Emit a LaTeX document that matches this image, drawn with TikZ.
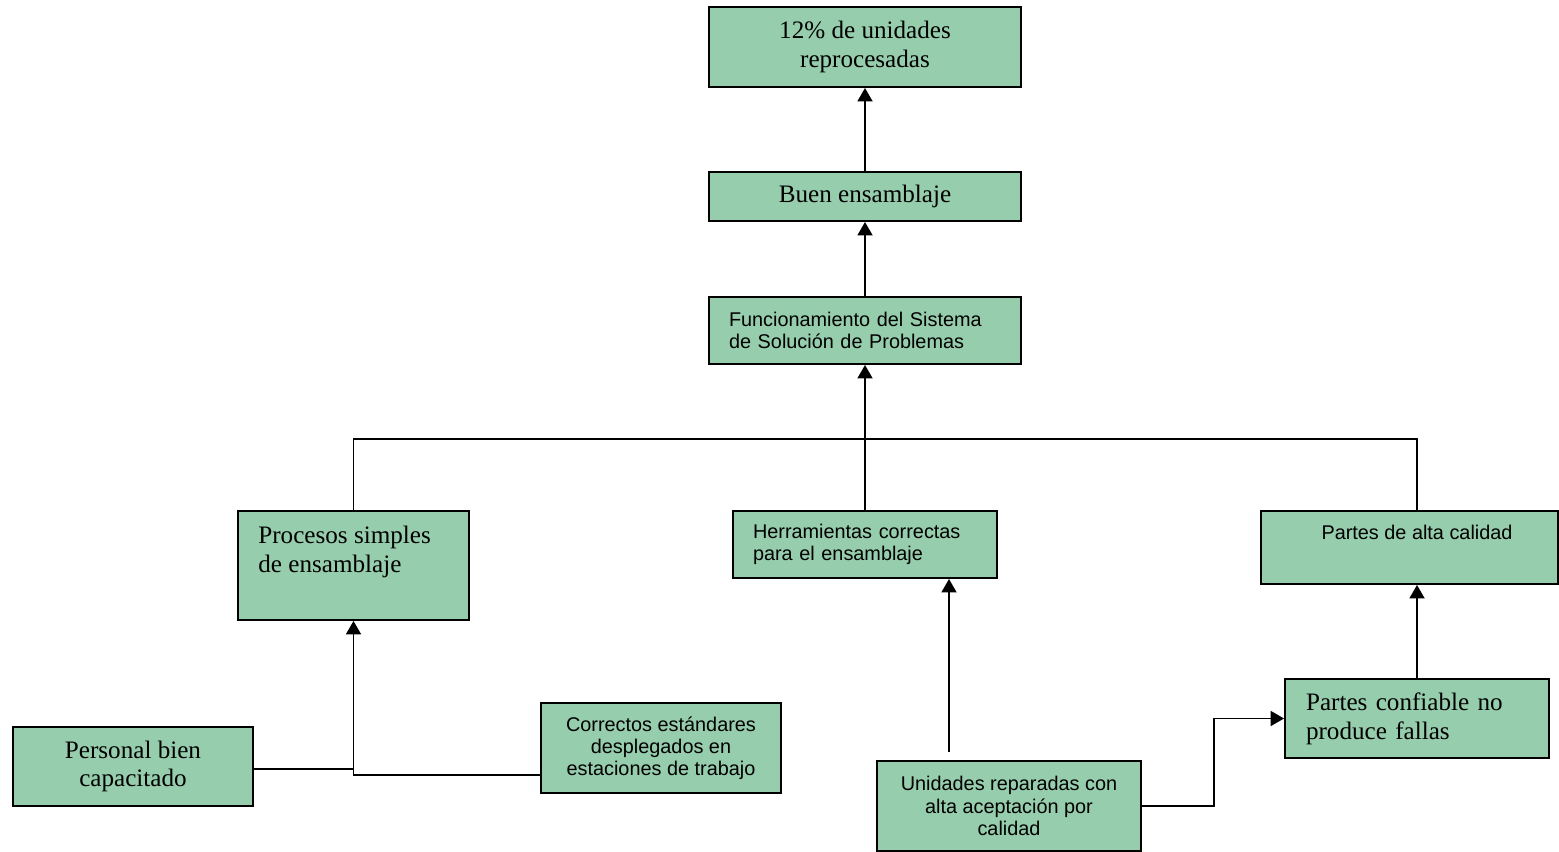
\documentclass[tikz,border=0pt]{standalone}
\usepackage{fontspec}
\setmainfont{Liberation Serif}
\setsansfont{Liberation Sans}
\usetikzlibrary{arrows.meta,calc}
\definecolor{verdecaja}{RGB}{150,205,172}

\begin{document}
\begin{tikzpicture}[x=0.02cm, y=-0.02cm,
  caja/.style={draw, line width=1.1pt, fill=verdecaja, inner sep=0pt},
  serifa/.style={font=\fontsize{14.3}{16.4}\selectfont},
  sanserif/.style={font=\sffamily\fontsize{11.3}{12.6}\selectfont},
  linea/.style={line width=1.1pt},
  flecha/.style={line width=1.1pt, -{Triangle[length=0.27cm, width=0.3cm]}}]
\useasboundingbox (0,0) rectangle (1559,852);

\node[caja, serifa, align=center, minimum width=6.24cm, minimum height=1.6cm] (reproc) at (865,47) {12\% de unidades\\reprocesadas};
\node[caja, serifa, minimum width=6.24cm, minimum height=0.98cm] (buen) at (865,196.5) {Buen ensamblaje};
\node[caja, sanserif, align=left, text width=5.44cm, inner xsep=0.4cm, minimum height=1.34cm] (func) at (865,330.5) {Funcionamiento del Sistema\\de Solución de Problemas};

\node[caja, minimum width=4.62cm, minimum height=2.18cm] (proc) at (353.5,565.5) {};
\node[serifa, align=left, anchor=north west, inner sep=0pt] (proc-txt) at ($(proc.north west)+(21,16)$) {Procesos simples\\de ensamblaje};
\node[caja, sanserif, align=left, text width=4.48cm, inner xsep=0.4cm, minimum height=1.34cm] (herr) at (865,544.5) {Herramientas correctas\\para el ensamblaje};
\node[caja, minimum width=5.94cm, minimum height=1.46cm] (partes) at (1409.5,547.5) {};
\node[sanserif, inner sep=0pt] (partes-txt) at (1417,532) {Partes de alta calidad};

\node[caja, serifa, align=center, minimum width=4.8cm, minimum height=1.58cm] (personal) at (133,766.5) {Personal bien\\capacitado};
\node[caja, sanserif, align=center, minimum width=4.8cm, minimum height=1.8cm] (correctos) at (661,748) {Correctos estándares\\desplegados en\\estaciones de trabajo};
\node[caja, sanserif, align=center, minimum width=5.28cm, minimum height=1.8cm] (unidades) at (1009,806) {Unidades reparadas con\\alta aceptación por\\calidad};
\node[caja, serifa, align=left, text width=4.44cm, inner xsep=0.42cm, minimum height=1.58cm] (confiable) at (1417,718.5) {Partes confiable no\\produce fallas};

\coordinate (barra) at (865,439);
\coordinate (libre) at (949,752);

\draw[flecha] (buen.north) -- (reproc.south);
\draw[flecha] (func.north) -- (buen.south);
\draw[flecha] (herr.north) -- (func.south);
\draw[linea] (proc.north) |- (barra) -| (confiable.north |- partes.north);

\draw[linea] ($(personal.east)+(0,2.5)$) -- ($(personal.east -| proc.south)+(0,2.5)$);
\draw[flecha] ($(correctos.west)+(0,27)$) -| (proc.south);

\draw[flecha] (libre) -- (libre |- herr.south);
\draw[flecha] (unidades.east) -- ++(72,0) |- (confiable.west);
\draw[flecha] (confiable.north) -- (confiable.north |- partes.south);

\end{tikzpicture}
\end{document}
